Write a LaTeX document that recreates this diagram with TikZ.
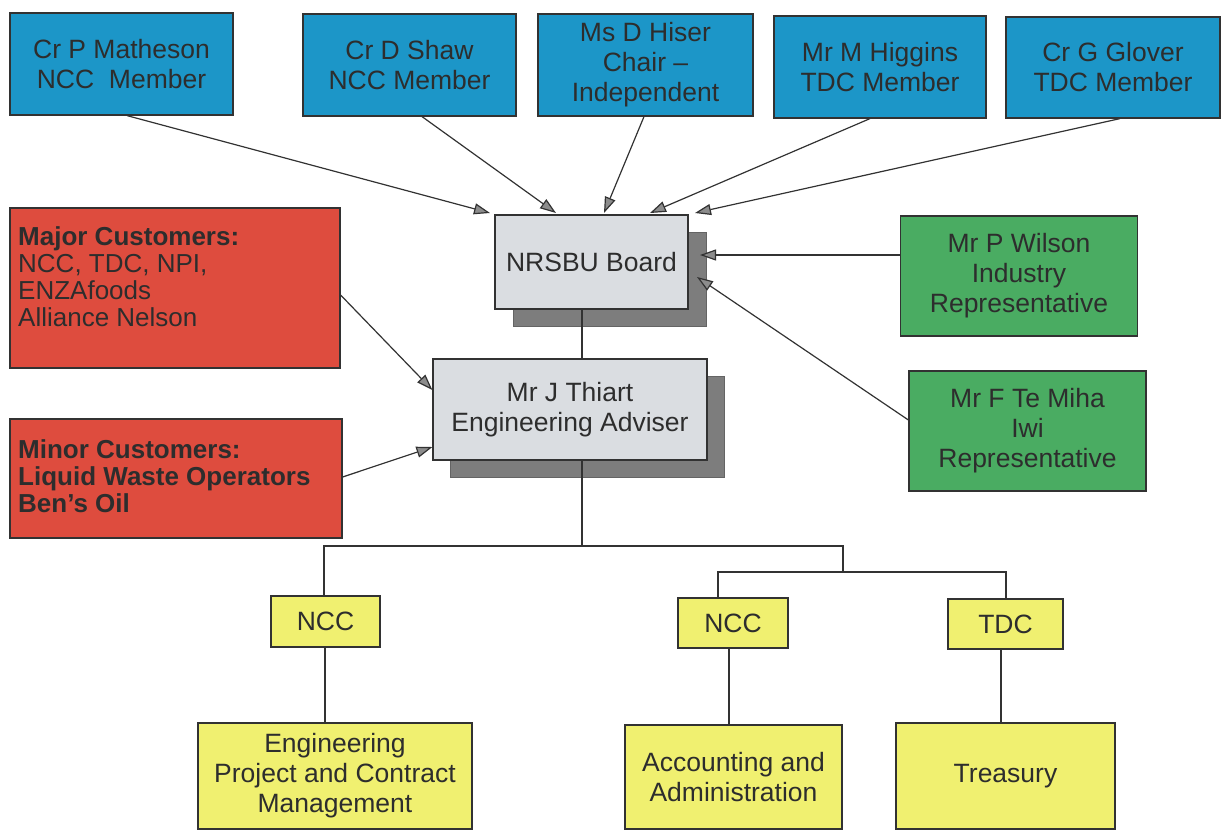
\documentclass[tikz,border=0pt]{standalone}
\usepackage{fontspec}
\setmainfont{Liberation Sans}
\usetikzlibrary{arrows.meta,calc}
\definecolor{bluefill}{RGB}{28,150,200}
\definecolor{redfill}{RGB}{222,76,62}
\definecolor{greenfill}{RGB}{74,172,98}
\definecolor{yellowfill}{RGB}{240,240,112}
\definecolor{greyfill}{RGB}{218,221,225}
\definecolor{shadowfill}{RGB}{125,125,125}
\definecolor{linec}{RGB}{50,50,50}
\definecolor{textc}{RGB}{45,45,45}
\definecolor{arrowc}{RGB}{140,140,140}
\begin{document}
\begin{tikzpicture}[x=1pt,y=-1pt,
  box/.style={draw=linec,line width=1.2pt,inner sep=0pt,align=center,text=textc,
    font=\fontsize{26.5}{30}\selectfont},
  bluebox/.style={box,fill=bluefill},
  redbox/.style={box,fill=redfill},
  greenbox/.style={box,fill=greenfill},
  yellowbox/.style={box,fill=yellowfill},
  greybox/.style={box,fill=greyfill},
  shadowbox/.style={fill=shadowfill,draw=shadowfill!80!black,line width=0.6pt,inner sep=0pt},
  redtext/.style={inner sep=0pt,align=left,anchor=north west,text=textc,
    font=\fontsize{26}{27}\selectfont},
  conn/.style={draw=linec,line width=1.2pt},
  arr/.style={conn,-{Triangle[length=16pt,width=11pt,fill=arrowc]}}]
\useasboundingbox (0,0) rectangle (1228,831);

% top row
\node[bluebox,minimum width=223pt,minimum height=102pt] (b1) at (121.5,64) {Cr P Matheson\\NCC\ \ Member};
\node[bluebox,minimum width=213pt,minimum height=102pt] (b2) at (409.5,65) {Cr D Shaw\\NCC Member};
\node[bluebox,minimum width=215pt,minimum height=102pt] (b3) at (645.5,65) {Ms D Hiser\\Chair –\\Independent};
\node[bluebox,minimum width=212pt,minimum height=102pt] (b4) at (880,67) {Mr M Higgins\\TDC Member};
\node[bluebox,minimum width=214pt,minimum height=101pt] (b5) at (1113,67.5) {Cr G Glover\\TDC Member};

% board and adviser with shadows
\node[shadowbox,minimum width=193pt,minimum height=94pt] (boardsh) at (609.5,279) {};
\node[greybox,minimum width=193pt,minimum height=94pt] (board) at (591.5,262) {NRSBU Board};
\node[shadowbox,minimum width=274pt,minimum height=101pt] (thiartsh) at (587,426.5) {};
\node[greybox,minimum width=274pt,minimum height=101pt] (thiart) at (570,409.5) {Mr J Thiart\\Engineering Adviser};

% customers
\node[redbox,minimum width=330pt,minimum height=160pt] (major) at (175,288) {};
\node[redtext] (majortext) at (18,226) {\textbf{Major Customers:}\\NCC, TDC, NPI,\\ENZAfoods\\Alliance Nelson};
\node[redbox,minimum width=332pt,minimum height=119pt] (minor) at (176,478.5) {};
\node[redtext] (minortext) at (18,439) {\textbf{Minor Customers:}\\\textbf{Liquid Waste Operators}\\\textbf{Ben's Oil}};

% representatives
\node[greenbox,minimum width=237pt,minimum height=120pt] (wilson) at (1019,276) {Mr P Wilson\\Industry\\Representative};
\node[greenbox,minimum width=237pt,minimum height=120pt] (temiha) at (1027.5,431) {Mr F Te Miha\\Iwi\\Representative};

% bottom
\node[yellowbox,minimum width=109pt,minimum height=51pt] (ncc1) at (325.5,621.5) {NCC};
\node[yellowbox,minimum width=110pt,minimum height=50pt] (ncc2) at (733,623) {NCC};
\node[yellowbox,minimum width=115pt,minimum height=50pt] (tdc) at (1005.5,624) {TDC};
\node[yellowbox,minimum width=274pt,minimum height=106pt] (eng) at (335,776) {Engineering\\Project and Contract\\Management};
\node[yellowbox,minimum width=217pt,minimum height=104pt] (acc) at (733.5,777) {Accounting and\\Administration};
\node[yellowbox,minimum width=219pt,minimum height=106pt] (treas) at (1005.5,776) {Treasury};

% arrows into the board
\coordinate (t1) at (490,213);
\coordinate (t2) at (556,213);
\coordinate (t3) at (604,213);
\coordinate (t4) at (650,213);
\coordinate (t5) at (695,213);
\draw[arr] ([xshift=5.5pt]b1.south) -- (t1);
\draw[arr] ([xshift=12.5pt]b2.south) -- (t2);
\draw[arr] ([xshift=-1.5pt]b3.south) -- (t3);
\draw[arr] ([xshift=-10pt]b4.south) -- (t4);
\draw[arr] ([xshift=7pt]b5.south) -- (t5);
\coordinate (tw) at (700,255);
\coordinate (tt) at (697,277);
\draw[arr] ([yshift=21pt]wilson.west) -- (tw);
\draw[arr] ([yshift=11pt]temiha.west) -- (tt);

% arrows into the adviser
\draw[arr] ([yshift=-7pt]major.east) -- ([yshift=19.5pt]thiart.west);
\draw[arr] ([yshift=1.5pt]minor.east) -- ([yshift=-37.5pt]thiart.west);

% board to adviser
\draw[conn] ([xshift=-9.5pt]board.south) -- ([xshift=12pt]thiart.north);

% tree
\coordinate (j0) at (582,546);
\coordinate (jl) at (324,546);
\coordinate (jr) at (843,546);
\coordinate (k0) at (843,572);
\coordinate (kl) at (718,572);
\coordinate (kr) at (1006,572);
\draw[conn] ([xshift=12pt]thiart.south) -- (j0);
\draw[conn] (jl |- ncc1.north) -- (jl) -- (jr) -- (k0);
\draw[conn] (kl |- ncc2.north) -- (kl) -- (kr) -- (kr |- tdc.north);
\draw[conn] ([xshift=-0.5pt]ncc1.south) -- ([xshift=-0.5pt]ncc1.south |- eng.north);
\draw[conn] ([xshift=-4pt]ncc2.south) -- ([xshift=-4pt]ncc2.south |- acc.north);
\draw[conn] ([xshift=-4.5pt]tdc.south) -- ([xshift=-4.5pt]tdc.south |- treas.north);
\end{tikzpicture}
\end{document}
